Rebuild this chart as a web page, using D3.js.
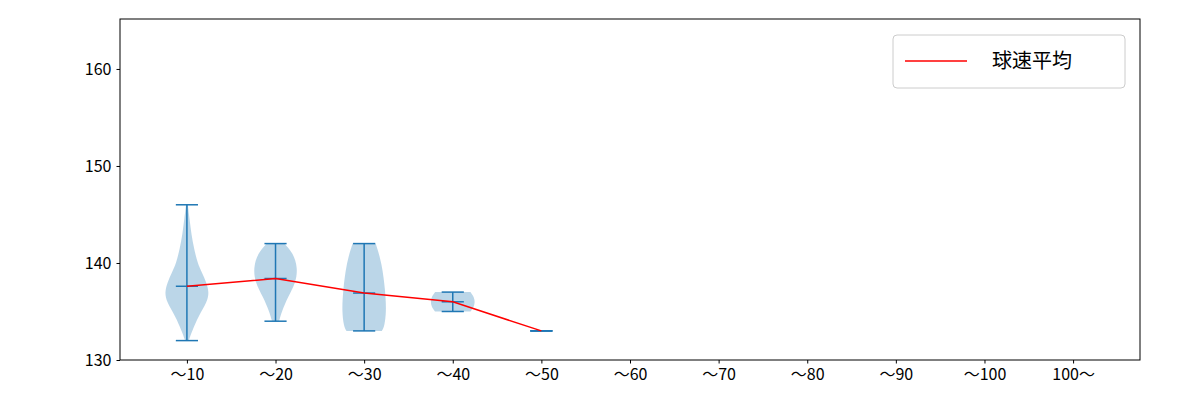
<!DOCTYPE html><html><head><meta charset="utf-8"><script src="https://cdn.jsdelivr.net/npm/d3@7"></script>
<style>body{margin:0;background:#fff}text{font-family:"Noto Sans CJK JP",sans-serif}</style></head><body><svg id="c" width="1200" height="400"></svg><script>
const categories=["～10","～20","～30","～40","～50","～60","～70","～80","～90","～100","100～"];
const mins=[132,134,133,135,133];
const maxs=[146,142,142,137,133];
const means=[137.6,138.4,136.9,136.0,133.0];
const profiles=[
 [[132,0.02],[133,0.06],[134.5,0.13],[136,0.23],[137,0.25],[138,0.22],[139,0.17],[140,0.12],[141.5,0.08],[143,0.05],[144.5,0.03],[146,0.01]],
 [[134,0.04],[135,0.07],[136.5,0.14],[138,0.23],[139.5,0.25],[141,0.2],[142,0.1]],
 [[133,0.2],[133.5,0.23],[135,0.25],[137,0.24],[140,0.2],[142,0.13]],
 [[135,0.2],[135.5,0.24],[136,0.25],[136.5,0.24],[137,0.2]],
 [[133,0.02],[133,0.02]]
];
const yTicks=[130,140,150,160];
const svg=d3.select("#c");
const L=120,R=1140,T=19,B=360;
const x=d3.scaleLinear().domain([0.245,11.755]).range([L,R]);
const y=d3.scaleLinear().domain([130,165.15]).range([B,T]);
const g=svg.append("g");
profiles.forEach((p,i)=>{
 const c=i+1;
 const area=d3.area().y(d=>y(d[0])).x0(d=>x(c-d[1])).x1(d=>x(c+d[1])).curve(d3.curveBasis);
 g.append("path").attr("d",area(p)).attr("fill","#1f77b4").attr("fill-opacity",0.3);
});
const blue="#1f77b4";
mins.forEach((m,i)=>{
 const c=i+1;
 g.append("line").attr("x1",x(c)).attr("x2",x(c)).attr("y1",y(m)).attr("y2",y(maxs[i])).attr("stroke",blue).attr("stroke-width",1.5);
 [m,maxs[i],means[i]].forEach(v=>g.append("line").attr("x1",x(c-0.125)).attr("x2",x(c+0.125)).attr("y1",y(v)).attr("y2",y(v)).attr("stroke",blue).attr("stroke-width",1.5));
});
g.append("path").attr("d",d3.line().x((d,i)=>x(i+1)).y(d=>y(d))(means)).attr("fill","none").attr("stroke","red").attr("stroke-width",1.5);
svg.append("rect").attr("x",L).attr("y",T).attr("width",R-L).attr("height",B-T).attr("fill","none").attr("stroke","#000");
const ya=svg.append("g").attr("transform",`translate(${L},0)`).call(d3.axisLeft(y).tickValues(yTicks).tickSize(3.5).tickPadding(5));
const xa=svg.append("g").attr("transform",`translate(0,${B})`).call(d3.axisBottom(x).tickValues(d3.range(1,12)).tickFormat(d=>categories[d-1]).tickSize(3.5).tickPadding(5));
[ya,xa].forEach(a=>{a.select(".domain").remove();a.selectAll("text").attr("font-size",16).attr("fill","#000").style("font-family","Noto Sans CJK JP");a.selectAll("line").attr("stroke","#000");});
const lg=svg.append("g");
lg.append("rect").attr("x",893).attr("y",35).attr("width",232).attr("height",53).attr("rx",4).attr("fill","#fff").attr("stroke","#ccc");
lg.append("line").attr("x1",905).attr("x2",967).attr("y1",61).attr("y2",61).attr("stroke","red").attr("stroke-width",1.5);
lg.append("text").attr("x",992).attr("y",68).attr("font-size",20).text("球速平均");
</script></body></html>
